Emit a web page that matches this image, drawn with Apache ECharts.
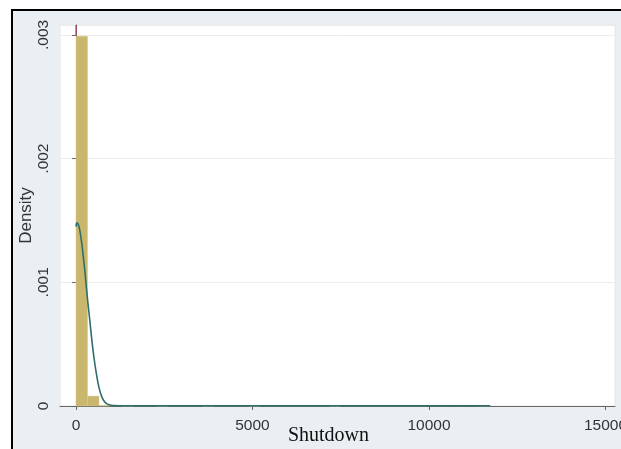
<!DOCTYPE html>
<html>
<head>
<meta charset="utf-8">
<script src="https://cdn.jsdelivr.net/npm/echarts@6/dist/echarts.min.js"></script>
<style>
  html, body { margin: 0; padding: 0; background: #ffffff; overflow: hidden; }
  #chart { width: 621px; height: 449px; }
</style>
</head>
<body>
<div id="chart"></div>
<script>
// Histogram bins: lower edge, upper edge, density
const binLow  = [0, 326, 652, 1304, 2282, 3586, 4890, 7170, 11408];
const binHigh = [326, 652, 978, 1630, 2608, 3912, 5216, 7496, 11734];
const binDensity = [0.00299, 0.00008, 0.0000048, 0.0000024, 0.0000024, 0.0000024, 0.0000024, 0.0000024, 0.0000024];

// Kernel density estimate (x, density)
const kdX = [0, 30, 60, 85, 120, 170, 210, 255, 300, 350, 396, 450, 510, 567, 650, 737, 810, 880, 960, 1050, 1500, 3000, 5000, 8000, 11734];
const kdY = [0.00145, 0.00148, 0.00147, 0.00145, 0.00140, 0.00130, 0.00120, 0.00108, 0.00094, 0.00080, 0.00068, 0.00053, 0.00039, 0.00028, 0.00015, 0.00007, 0.000035, 0.000017, 0.000008, 0.000004, 0.000002, 0.000002, 0.000002, 0.000002, 0.000001];

// Short red reference line at the top
const refX = [0, 0];
const refY = [0.003, 0.00308];

const xTicks = [0, 5000, 10000, 15000];
const yTicks = [0, 0.001, 0.002, 0.003];

const histData = binLow.map((lo, i) => [lo, binHigh[i], binDensity[i]]);
const kdData = kdX.map((x, i) => [x, kdY[i]]);
const refData = refX.map((x, i) => [x, refY[i]]);

const chart = echarts.init(document.getElementById('chart'));
const fontSans = 'Liberation Sans, Arial, sans-serif';

chart.setOption({
  backgroundColor: 'transparent',
  animation: false,
  graphic: [
    { type: 'rect', z: -100, shape: { x: 12, y: 10, width: 609, height: 439 }, style: { fill: '#e9eff2' } },
    { type: 'line', z: -99, shape: { x1: 11, y1: 10, x2: 621, y2: 10 }, style: { stroke: '#000', lineWidth: 2 } },
    { type: 'line', z: -99, shape: { x1: 12, y1: 9, x2: 12, y2: 449 }, style: { stroke: '#000', lineWidth: 2 } }
  ],
  grid: {
    left: 60, right: 6, top: 25, bottom: 43,
    outerBoundsMode: 'none',
    containLabel: false,
    show: true, backgroundColor: '#ffffff', borderColor: '#e4e8ea', borderWidth: 1
  },
  xAxis: {
    type: 'value',
    min: -453, max: 15270,
    name: 'Shutdown',
    nameLocation: 'middle',
    nameGap: 20,
    nameMoveOverlap: false,
    nameTextStyle: { fontFamily: 'Liberation Serif, Times New Roman, serif', fontSize: 20, color: '#111', padding: [0, 18, 0, 0] },
    axisLine: { lineStyle: { color: '#666', width: 1 } },
    axisTick: { customValues: xTicks, length: 4, lineStyle: { color: '#666' } },
    axisLabel: { customValues: xTicks, fontFamily: fontSans, fontSize: 15.5, color: '#333', margin: 12,
      formatter: v => String(Math.round(v)) },
    splitLine: { show: false }
  },
  yAxis: {
    type: 'value',
    min: 0, max: 0.00308, interval: 0.001,
    name: 'Density',
    nameLocation: 'middle',
    nameGap: 25,
    nameRotate: 90,
    nameMoveOverlap: false,
    nameTextStyle: { fontFamily: fontSans, fontSize: 17, color: '#333' },
    axisLine: { show: true, lineStyle: { color: '#666', width: 1 } },
    axisTick: { show: true, length: 4, lineStyle: { color: '#666' } },
    axisLabel: {
      rotate: 90, fontFamily: fontSans, fontSize: 15.5, color: '#333', margin: 8,
      showMaxLabel: false,
      formatter: v => {
        if (Math.abs(v) < 1e-12) return '0';
        const s = v.toFixed(3);
        return yTicks.some(t => Math.abs(t - v) < 1e-9) ? s.replace(/^0/, '') : '';
      }
    },
    splitLine: { show: true, lineStyle: { color: '#ededed', width: 1 } }
  },
  series: [
    {
      type: 'custom',
      data: histData,
      encode: { x: [0, 1], y: 2 },
      renderItem: (params, api) => {
        const p1 = api.coord([api.value(0), api.value(2)]);
        const p2 = api.coord([api.value(1), 0]);
        return {
          type: 'rect',
          shape: { x: p1[0], y: p1[1], width: p2[0] - p1[0], height: p2[1] - p1[1] },
          style: { fill: '#cab76e', stroke: '#d8c98c', lineWidth: 0.5 }
        };
      },
      z: 2
    },
    {
      type: 'line',
      data: kdData,
      smooth: 0.4,
      showSymbol: false,
      lineStyle: { color: '#2f6f68', width: 1.6 },
      z: 3
    },
    {
      type: 'line',
      data: refData,
      showSymbol: false,
      lineStyle: { color: '#b8405a', width: 1.2 },
      z: 4
    }
  ]
});
</script>
</body>
</html>
